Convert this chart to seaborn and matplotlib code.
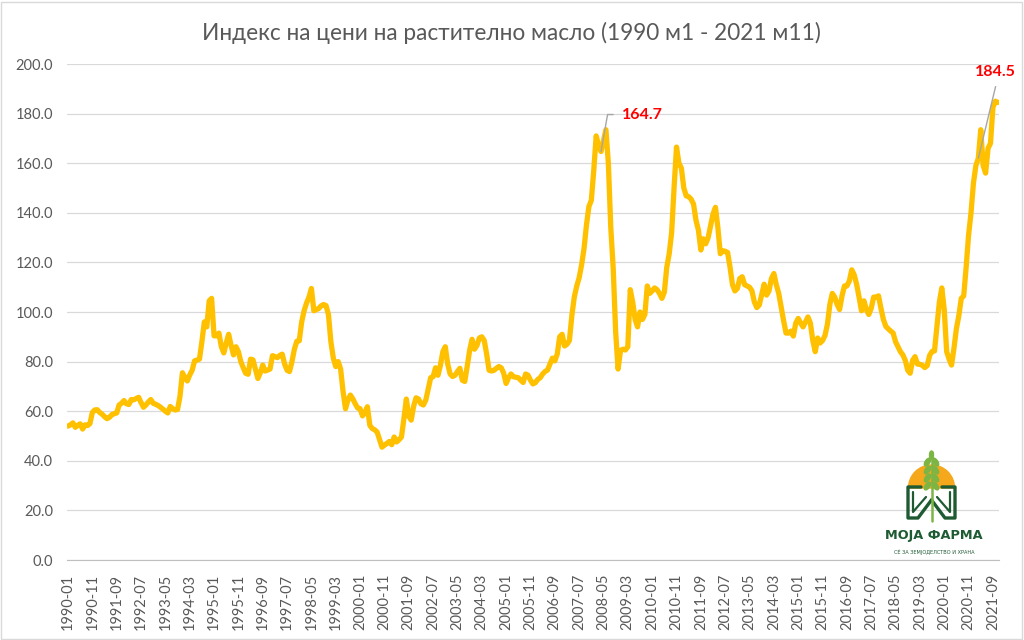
import pandas as pd
import matplotlib.pyplot as plt
import seaborn as sns
from matplotlib.patches import Wedge, Ellipse, Rectangle

title = 'Индекс на цени на растително масло (1990 м1 - 2021 м11)'
start_month = '1990-01'
end_month = '2021-11'
tick_every = 10  # one x label every 10 months
y_ticks = [0, 20, 40, 60, 80, 100, 120, 140, 160, 180, 200]

# monthly index values, one row per year
index_values = [
    54.0, 54.5, 55.3, 53.5, 54.3, 54.9, 52.8, 54.5, 54.2, 55.0, 59.5, 60.5,        # 1990
    60.6, 59.5, 58.8, 57.8, 57.0, 57.5, 58.6, 59.0, 59.3, 62.5, 63.2, 64.3,        # 1991
    63.0, 62.7, 64.7, 64.6, 65.1, 65.6, 63.5, 61.6, 62.5, 63.7, 64.7, 63.2,        # 1992
    62.8, 62.3, 61.6, 60.8, 60.0, 59.3, 61.9, 61.0, 60.5, 60.7, 66.0, 75.5,        # 1993
    73.5, 72.2, 74.6, 76.5, 80.3, 80.6, 81.0, 88.0, 96.0, 94.0, 104.5, 105.5,      # 1994
    90.4, 90.4, 91.5, 86.0, 83.5, 87.5, 91.0, 86.5, 82.7, 86.0, 84.0, 80.0,        # 1995
    77.5, 75.3, 74.9, 81.0, 80.7, 77.0, 73.2, 75.5, 78.6, 76.2, 76.6, 77.0,        # 1996
    82.4, 82.0, 81.6, 82.5, 83.0, 79.0, 76.5, 76.0, 80.0, 85.0, 88.2, 88.4,        # 1997
    96.0, 100.5, 103.6, 106.0, 109.5, 100.5, 101.0, 101.4, 102.5, 103.0, 102.6, 99.0,  # 1998
    88.0, 81.4, 78.0, 80.0, 77.0, 68.0, 61.0, 64.5, 66.5, 65.0, 63.0, 61.3,        # 1999
    61.0, 58.1, 59.5, 61.8, 54.3, 53.0, 52.5, 51.6, 48.5, 45.5, 46.3, 47.0,        # 2000
    47.8, 46.5, 49.6, 47.6, 48.5, 49.6, 57.0, 64.9, 58.0, 56.4, 62.0, 65.4,        # 2001
    64.9, 63.0, 62.5, 64.5, 69.0, 73.5, 73.9, 77.5, 74.5, 78.5, 84.0, 86.0,        # 2002
    79.0, 75.0, 74.0, 74.5, 76.0, 77.3, 72.5, 72.0, 78.0, 84.5, 89.0, 85.0,        # 2003
    86.5, 89.5, 90.0, 88.5, 83.0, 76.5, 76.2, 76.5, 77.3, 78.0, 77.5, 75.3,        # 2004
    71.2, 73.5, 75.0, 73.9, 73.7, 73.5, 72.5, 71.6, 75.0, 74.5, 72.5, 71.0,        # 2005
    71.5, 72.8, 73.5, 75.0, 76.0, 76.6, 79.0, 81.4, 80.3, 83.0, 90.0, 91.0,        # 2006
    86.3, 87.0, 88.5, 98.5, 106.0, 110.4, 113.8, 119.0, 125.5, 135.0, 142.5, 145.0,  # 2007
    157.0, 171.0, 167.0, 164.7, 169.0, 173.5, 160.0, 134.0, 117.5, 92.0, 77.0, 84.5,  # 2008
    85.0, 84.7, 86.0, 109.0, 104.0, 97.0, 94.0, 100.0, 97.0, 99.0, 110.5, 107.5,   # 2009
    108.5, 109.7, 109.0, 107.5, 105.5, 108.0, 118.0, 123.5, 132.0, 150.0, 166.5, 160.0,  # 2010
    158.0, 150.0, 146.8, 146.5, 145.5, 143.5, 137.0, 133.0, 125.0, 129.5, 127.5, 130.0,  # 2011
    134.7, 139.5, 142.2, 134.0, 123.5, 124.7, 124.5, 124.0, 118.0, 111.0, 108.5, 109.5,  # 2012
    113.5, 114.2, 111.0, 110.5, 110.0, 108.5, 104.0, 101.8, 102.8, 107.0, 111.2, 106.8,  # 2013
    108.5, 113.5, 115.5, 111.0, 107.5, 102.0, 96.5, 91.5, 91.5, 92.3, 90.3, 95.5,  # 2014
    97.4, 95.5, 94.0, 96.0, 98.0, 95.5, 88.5, 84.0, 89.5, 87.5, 88.5, 90.5,        # 2015
    95.0, 103.0, 107.5, 106.0, 103.0, 101.0, 106.5, 110.5, 110.5, 112.5, 117.0, 115.0,  # 2016
    111.2, 106.0, 100.5, 104.5, 101.0, 99.0, 101.5, 106.0, 106.0, 106.5, 101.5, 97.0,  # 2017
    94.2, 93.2, 92.3, 91.5, 88.0, 86.0, 84.0, 82.7, 80.5, 76.5, 75.3, 80.5,        # 2018
    82.0, 79.0, 78.9, 78.5, 77.6, 78.4, 82.5, 84.1, 84.3, 94.0, 104.0, 109.7,      # 2019
    101.0, 84.0, 81.0, 78.6, 85.4, 93.3, 98.5, 105.5, 106.5, 118.0, 131.0, 140.0,  # 2020
    152.0, 159.0, 162.0, 173.5, 159.0, 156.0, 166.0, 168.0, 182.5, 185.0, 184.5,   # 2021
]

# months that carry the red data labels (label text, point the leader line goes to)
dip_label_month = '2008-04'
last_label_anchor_month = '2021-03'

months = pd.period_range(start_month, end_month, freq='M').strftime('%Y-%m')
df = pd.DataFrame({'month': months, 'value': index_values})
df['pos'] = range(len(df))

sns.set_theme(style='white')
plt.rcParams['font.family'] = ['Lato', 'Noto Sans', 'DejaVu Sans']

grey_text = '#595959'
grid_col = '#D9D9D9'

fig = plt.figure(figsize=(10.24, 6.4), dpi=100)
ax = fig.add_axes([66.8 / 1024, 80 / 640, 932.2 / 1024, 496 / 640])

sns.lineplot(data=df, x='pos', y='value', color='#FFC000', linewidth=3.8,
             solid_joinstyle='round', solid_capstyle='round', ax=ax)

ax.set_xlim(-0.5, len(df) - 0.5)
ax.set_ylim(y_ticks[0], y_ticks[-1])
ax.set_yticks(y_ticks)
ax.set_yticklabels([f'{v:.1f}' for v in y_ticks], color=grey_text, fontsize=10.5)
ax.set_xticks(df['pos'][::tick_every])
ax.set_xticklabels(df['month'][::tick_every], rotation=90, color=grey_text, fontsize=10.5)
ax.tick_params(axis='y', length=0, pad=10)
ax.tick_params(axis='x', length=4, width=0.8, color='#BFBFBF', direction='out', pad=6)
ax.set_xlabel('')
ax.set_ylabel('')

ax.yaxis.grid(True, color=grid_col, linewidth=0.9)
ax.set_axisbelow(True)
for side in ['top', 'left', 'right']:
    ax.spines[side].set_visible(False)
ax.spines['bottom'].set_color('#BFBFBF')
ax.spines['bottom'].set_linewidth(0.8)

fig.text(0.4995, 0.948, title, ha='center', va='center', color=grey_text, fontsize=16.3)

# red data labels with grey leader lines
dip = df[df['month'] == dip_label_month].iloc[0]
ax.annotate(f'{dip.value:.1f}', xy=(dip.pos, dip.value), xytext=(21, 37),
            textcoords='offset pixels', ha='left', va='center', color='#FF0000',
            fontweight='bold', fontsize=11.5,
            arrowprops=dict(arrowstyle='-', color='#A6A6A6', lw=1, relpos=(0, 0.5),
                            shrinkA=4, shrinkB=0,
                            connectionstyle='angle,angleA=0,angleB=80,rad=0'))

anchor = df[df['month'] == last_label_anchor_month].iloc[0]
ax.annotate(f'{index_values[-1]:.1f}', xy=(anchor.pos, anchor.value), xytext=(17, 86),
            textcoords='offset pixels', ha='center', va='center', color='#FF0000',
            fontweight='bold', fontsize=11.5,
            arrowprops=dict(arrowstyle='-', color='#A6A6A6', lw=1, relpos=(0.55, 0),
                            shrinkA=3, shrinkB=0))

# chart area border
fig.patches.append(Rectangle((1 / 1024, 1 / 640), 1021 / 1024, 637 / 640, fill=False,
                             edgecolor=grid_col, lw=1, transform=fig.transFigure))

# "Моја Фарма" logo watermark (pixel coordinates)
logo = fig.add_axes([0, 0, 1, 1], zorder=5)
logo.set_xlim(0, 1024)
logo.set_ylim(640, 0)
logo.axis('off')
logo.add_patch(Wedge((931.5, 488), 23, 180, 360, color='#F5A81C'))
dark_green = '#1E5B32'
light_green = '#7DB544'
logo.plot([921, 908, 908, 918, 931.5], [487, 487, 518, 518, 500], color=dark_green, lw=2.4)
logo.plot([942, 955, 955, 945, 931.5], [487, 487, 518, 518, 500], color=dark_green, lw=2.4)
logo.plot([913, 913, 926], [492, 512, 497], color=dark_green, lw=1.6)
logo.plot([950, 950, 937], [492, 512, 497], color=dark_green, lw=1.6)
logo.plot([931.5, 931.5], [452, 521], color=light_green, lw=1.8)
for gy in [462, 470, 478, 486]:
    logo.add_patch(Ellipse((927.5, gy), 4.5, 9, angle=35, color=light_green))
    logo.add_patch(Ellipse((935.5, gy), 4.5, 9, angle=-35, color=light_green))
logo.add_patch(Ellipse((931.5, 455), 4, 8, color=light_green))
logo.text(934, 536, 'МОЈА ФАРМА', ha='center', va='center', fontsize=9.3,
          fontweight='bold', color=dark_green, family=['DejaVu Sans'])
logo.text(934, 552, 'СЀ ЗА ЗЕМЈОДЕЛСТВО И ХРАНА', ha='center', va='center',
          fontsize=3.6, color=dark_green, family=['DejaVu Sans'])

fig.savefig('out.png', dpi=100)
